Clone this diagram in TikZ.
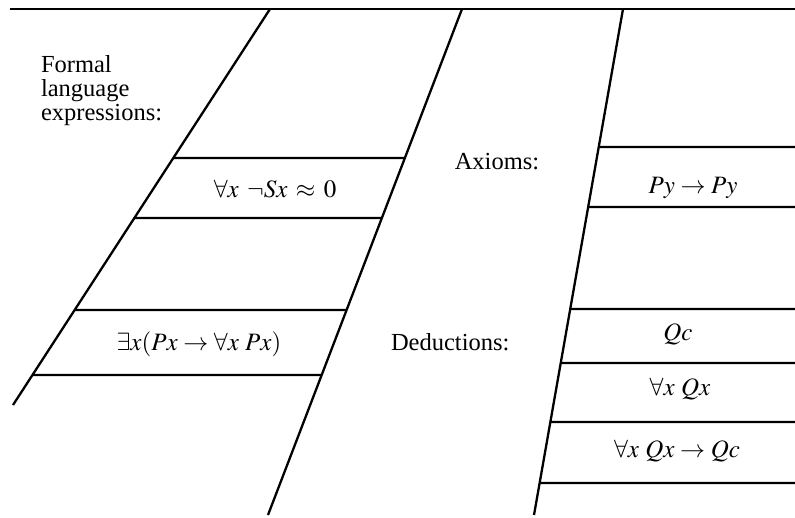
\documentclass[tikz,border=0pt]{standalone}
\usepackage{mathptmx}
\usepackage[no-math]{fontspec}
\setmainfont{Liberation Serif}
\usetikzlibrary{calc}
\begin{document}
\begin{tikzpicture}[x=1pt,y=-1pt,
  rule/.style={line width=2.3pt},
  lbl/.style={font=\fontsize{24.5}{25}\selectfont, inner sep=0pt, outer sep=0pt},
  fml/.style={font=\fontsize{25}{25}\selectfont, inner sep=0pt, outer sep=0pt}]
\useasboundingbox (0,0) rectangle (795,517);
% frame lines
\coordinate (TL) at (10,9);
\coordinate (TR) at (795,9);
\coordinate (A1) at (270,9);
\coordinate (A2) at (13,405);
\coordinate (B1) at (462,9);
\coordinate (B2) at (268,515);
\coordinate (C1) at (623,9);
\coordinate (C2) at (534,515);
\draw[rule] (TL) -- (TR);
\draw[rule] (A1) -- (A2);
\draw[rule] (B1) -- (B2);
\draw[rule] (C1) -- (C2);
% left strip bands
\foreach \y [count=\i] in {158,218,310,375} {
  \coordinate (la\i) at ($(A1)!{(\y-9)/396}!(A2)$);
  \coordinate (lb\i) at ($(B1)!{(\y-9)/506}!(B2)$);
  \draw[rule] (la\i) -- (lb\i);
}
% right strip bands
\foreach \y [count=\i] in {147,207,309,363,422,483} {
  \coordinate (lc\i) at ($(C1)!{(\y-9)/506}!(C2)$);
  \coordinate (rc\i) at (795,\y);
  \draw[rule] (lc\i) -- (rc\i);
}
% labels
\node[lbl, anchor=base west] (f1) at (41,72) {Formal};
\node[lbl, anchor=base west] (f2) at (41,96) {language};
\node[lbl, anchor=base west] (f3) at (41,120) {expressions:};
\node[lbl, anchor=base] (ax) at (497,169) {Axioms:};
\node[lbl, anchor=base west] (de) at (391,350) {Deductions:};
% formulas
\node[fml, anchor=base] (e1) at (275,197) {$\forall x\;\, \neg Sx \,\approx\, 0$};
\node[fml, anchor=base] (e2) at (199,350) {$\exists x(Px \rightarrow \forall x\ Px)$};
\node[fml, anchor=base] (p1) at (693,193) {$Py \rightarrow Py$};
\node[fml, anchor=base] (d1) at (678,340) {$Qc$};
\node[fml, anchor=base] (d2) at (680,395) {$\forall x\ Qx$};
\node[fml, anchor=base] (d3) at (677,457) {$\forall x\ Qx \rightarrow Qc$};
\end{tikzpicture}
\end{document}
